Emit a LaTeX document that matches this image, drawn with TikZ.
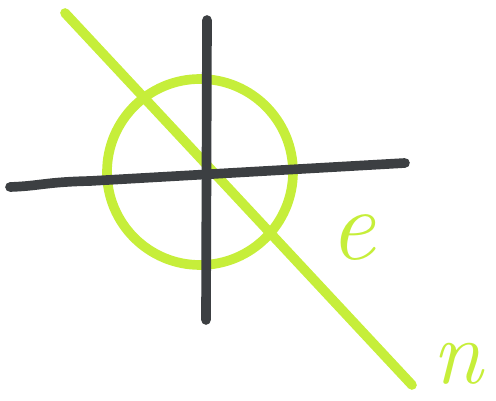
\documentclass[tikz,border=0pt]{standalone}
\usepackage{tikz}
\usetikzlibrary{calc}
\definecolor{limex}{HTML}{C6EE3A}
\definecolor{inkx}{HTML}{3C3F42}
\tikzset{
  axis/.style={inkx,line width=5.5pt,line cap=round},
  marker/.style={limex,line width=5.5pt,line cap=round},
  lbl/.style={text=limex,font=\fontsize{58}{58}\selectfont\itshape,inner sep=0pt}
}
\begin{document}
\begin{tikzpicture}[x=0.02cm,y=-0.02cm]
\useasboundingbox (0,0) rectangle (496,401);
% green marker first, axes on top
\draw[marker] (200,172) circle (93);
\coordinate (ltop) at (65,13);
\coordinate (lbot) at (412,385);
\draw[marker] (ltop) -- (lbot);
% axes
\coordinate (xl) at (10,187);
\coordinate (xr) at (405,163);
\coordinate (yt) at (207,20);
\coordinate (yb) at (206,320);
\draw[axis] (xl) .. controls (40,186) and (45,182) .. (90,181) -- (xr);
\draw[axis] (yt) -- (yb);
% labels
\node[lbl] (e) at (352,238) {e};
\node[lbl,font=\fontsize{52}{52}\selectfont\itshape] (n) at (458,364) {n};
\end{tikzpicture}
\end{document}
